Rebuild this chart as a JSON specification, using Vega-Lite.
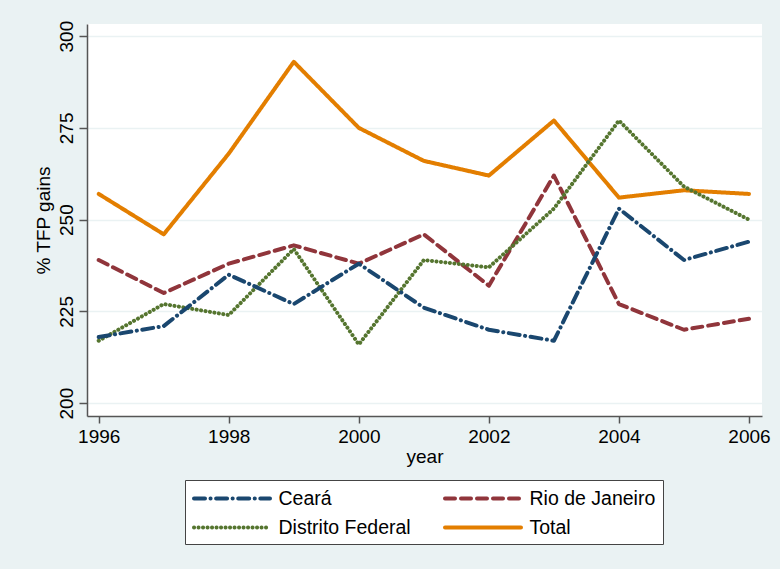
{
  "$schema": "https://vega.github.io/schema/vega-lite/v6.json",
  "width": 675,
  "height": 392,
  "autosize": {"type": "none"},
  "padding": {"left": 87, "top": 24, "right": 18, "bottom": 153},
  "background": "#EAF2F3",
  "view": {"fill": "white", "stroke": null},
  "config": {
    "font": "Liberation Sans",
    "legend": {
      "fillColor": "white",
      "strokeColor": "#444",
      "padding": 7,
      "rowPadding": 8,
      "columnPadding": 26,
      "labelFontSize": 19.5,
      "labelColor": "black",
      "labelOffset": 35,
      "symbolOffset": 28.5,
      "symbolType": "M-4,0H4",
      "symbolSize": 361,
      "symbolStrokeWidth": 4,
      "symbolFillColor": "transparent",
      "labelLimit": 300
    }
  },
  "data": {
    "values": [
      {"series": "Total", "year": 1996, "value": 257},
      {"series": "Total", "year": 1997, "value": 246},
      {"series": "Total", "year": 1998, "value": 268},
      {"series": "Total", "year": 1999, "value": 293},
      {"series": "Total", "year": 2000, "value": 275},
      {"series": "Total", "year": 2001, "value": 266},
      {"series": "Total", "year": 2002, "value": 262},
      {"series": "Total", "year": 2003, "value": 277},
      {"series": "Total", "year": 2004, "value": 256},
      {"series": "Total", "year": 2005, "value": 258},
      {"series": "Total", "year": 2006, "value": 257},
      {"series": "Rio de Janeiro", "year": 1996, "value": 239},
      {"series": "Rio de Janeiro", "year": 1997, "value": 230},
      {"series": "Rio de Janeiro", "year": 1998, "value": 238},
      {"series": "Rio de Janeiro", "year": 1999, "value": 243},
      {"series": "Rio de Janeiro", "year": 2000, "value": 238},
      {"series": "Rio de Janeiro", "year": 2001, "value": 246},
      {"series": "Rio de Janeiro", "year": 2002, "value": 232},
      {"series": "Rio de Janeiro", "year": 2003, "value": 262},
      {"series": "Rio de Janeiro", "year": 2004, "value": 227},
      {"series": "Rio de Janeiro", "year": 2005, "value": 220},
      {"series": "Rio de Janeiro", "year": 2006, "value": 223},
      {"series": "Distrito Federal", "year": 1996, "value": 217},
      {"series": "Distrito Federal", "year": 1997, "value": 227},
      {"series": "Distrito Federal", "year": 1998, "value": 224},
      {"series": "Distrito Federal", "year": 1999, "value": 242},
      {"series": "Distrito Federal", "year": 2000, "value": 216},
      {"series": "Distrito Federal", "year": 2001, "value": 239},
      {"series": "Distrito Federal", "year": 2002, "value": 237},
      {"series": "Distrito Federal", "year": 2003, "value": 253},
      {"series": "Distrito Federal", "year": 2004, "value": 277},
      {"series": "Distrito Federal", "year": 2005, "value": 259},
      {"series": "Distrito Federal", "year": 2006, "value": 250},
      {"series": "Ceará", "year": 1996, "value": 218},
      {"series": "Ceará", "year": 1997, "value": 221},
      {"series": "Ceará", "year": 1998, "value": 235},
      {"series": "Ceará", "year": 1999, "value": 227},
      {"series": "Ceará", "year": 2000, "value": 238},
      {"series": "Ceará", "year": 2001, "value": 226},
      {"series": "Ceará", "year": 2002, "value": 220},
      {"series": "Ceará", "year": 2003, "value": 217},
      {"series": "Ceará", "year": 2004, "value": 253},
      {"series": "Ceará", "year": 2005, "value": 239},
      {"series": "Ceará", "year": 2006, "value": 244}
    ]
  },
  "mark": {"type": "line", "strokeWidth": 4, "strokeCap": "round", "strokeJoin": "round"},
  "encoding": {
    "x": {
      "field": "year",
      "type": "quantitative",
      "scale": {"domain": [1995.82, 2006.2], "nice": false, "zero": false},
      "axis": {
        "values": [1996, 1998, 2000, 2002, 2004, 2006],
        "format": "d",
        "title": "year",
        "grid": false,
        "domainColor": "#555",
        "domainWidth": 1.5,
        "tickColor": "#555",
        "tickWidth": 1.5,
        "tickSize": 7,
        "labelFontSize": 19,
        "labelColor": "black",
        "labelPadding": 4,
        "labelFlush": false,
        "titleFontSize": 19,
        "titleFontWeight": "normal",
        "titleColor": "black",
        "titlePadding": 1
      }
    },
    "y": {
      "field": "value",
      "type": "quantitative",
      "scale": {"domain": [196.5, 303.3], "nice": false, "zero": false},
      "axis": {
        "values": [200, 225, 250, 275, 300],
        "title": "% TFP gains",
        "grid": true,
        "gridColor": "#EAF2F3",
        "gridWidth": 1.5,
        "domainColor": "#555",
        "domainWidth": 1.5,
        "tickColor": "#555",
        "tickWidth": 1.5,
        "tickSize": 8,
        "labelFontSize": 19,
        "labelColor": "black",
        "labelAngle": -90,
        "labelAlign": "center",
        "labelBaseline": "bottom",
        "labelPadding": 3,
        "labelFlush": false,
        "titleFontSize": 19,
        "titleFontWeight": "normal",
        "titleColor": "black",
        "titlePadding": 4
      }
    },
    "color": {
      "field": "series",
      "type": "nominal",
      "scale": {
        "domain": ["Ceará", "Rio de Janeiro", "Distrito Federal", "Total"],
        "range": ["#1A476F", "#90353B", "#55752F", "#E37E00"]
      },
      "legend": {"title": null, "orient": "none", "legendX": 98, "legendY": 456, "columns": 2, "direction": "horizontal",
        "encode": {"symbols": {"update": {"strokeCap": {"value": "round"}, "fill": {"value": "transparent"}}}}}
    },
    "strokeDash": {
      "field": "series",
      "type": "nominal",
      "scale": {
        "domain": ["Ceará", "Rio de Janeiro", "Distrito Federal", "Total"],
        "range": [[11, 5.5, 0.1, 5.5], [10, 6], [0.1, 4.4], [1, 0]]
      },
      "legend": {"title": null, "orient": "none", "legendX": 98, "legendY": 456, "columns": 2, "direction": "horizontal",
        "encode": {"symbols": {"update": {"strokeCap": {"value": "round"}, "fill": {"value": "transparent"}}}}}
    }
  }
}
